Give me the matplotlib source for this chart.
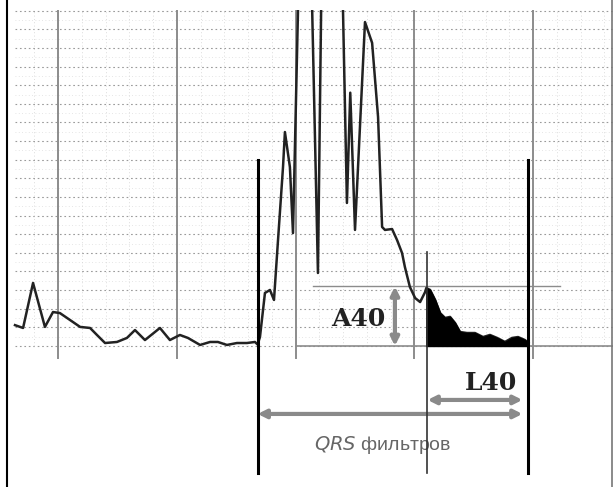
import matplotlib.pyplot as plt
import numpy as np

# filtered QRS (signal-averaged ECG), time in ms, amplitude in uV
t_ms = [-18.1, -14.7, -10.5, -5.5, -2.1, 0.8, 5.1, 9.3, 13.5, 16.4, 19.8, 24.8,
        29.0, 32.4, 36.6, 42.9, 47.1, 51.3, 54.7, 59.8, 64.0, 67.3, 71.1, 75.3,
        79.5, 82.9, 84.0,
        85.0, 87.1, 89.2, 90.9, 92.6, 94.7, 95.5, 97.6, 98.9, 101.5, 106.5,
        109.4, 111.0, 119.5, 121.6, 123.0, 125.0, 129.2, 132.2, 134.7, 136.4,
        137.6, 140.6, 142.7, 144.8, 146.0, 148.1, 150.3, 152.4, 154.5, 155.0,
        156.6, 158.7, 160.8, 162.9, 165.0, 167.1, 169.2, 172.1, 175.5, 178.9,
        181.8, 184.8, 188.1, 191.1, 193.6, 196.5, 198.0]
amp_uv = [14.0, 12.1, 42.3, 12.8, 22.8, 22.1, 17.4, 12.8, 12.1, 7.4, 2.0, 2.7,
          5.4, 10.7, 4.0, 12.1, 4.0, 7.4, 5.4, 0.7, 2.7, 2.7, 0.7, 2.0,
          2.0, 2.7, 1.0,
          6.0, 35.6, 37.6, 30.9, 71.1, 120.1, 143.6, 120.1, 75.8, 260, 260,
          49.0, 260, 260, 96.0, 170.0, 77.9, 217.4, 203.4, 153.7, 79.9,
          77.9, 78.5, 71.1, 62.4, 53.0, 39.6, 32.2, 29.5, 36.2, 38.9,
          37.6, 30.9, 22.1, 18.8, 19.5, 15.4, 9.4, 8.7, 8.7, 6.0,
          7.4, 5.4, 2.7, 5.4, 6.0, 4.0, 2.0]

qrs_on = 84.0
qrs_off = 198.0
las_on = 155.0
a40 = 40

t = np.array(t_ms)
y = np.array(amp_uv)

fig = plt.figure(figsize=(6.13, 4.87), dpi=100)
ax = fig.add_axes([0, 0, 1, 477/487])
ax.set_xlim(-24.41, 233.58)
ax.set_ylim(-94.63, 225.5)
ax.axis("off")

# grid
x0, x1 = -18.1, 233.6
for k in range(0, 19):
    ax.plot([x0, x1], [k*12.5, k*12.5], color="#9a9a9a", lw=0.8, ls=(0, (1.5, 2.5)), zorder=1)
    ax.plot([x0, x1], [k*12.5+6.25, k*12.5+6.25], color="#dddddd", lw=0.6, ls=(0, (1, 3)), zorder=1)
for v in np.arange(-10, 231, 10):
    ax.plot([v, v], [0, 226], color="#d0d0d0", lw=0.6, ls=(0, (1, 3)), zorder=1)
for v in [0, 50, 100, 150, 200]:
    ax.plot([v, v], [-8, 226], color="#8c8c8c", lw=1.4, zorder=1)
ax.plot([100, 233.6], [0, 0], color="#8c8c8c", lw=1.2, zorder=1)
ax.plot([107.3, 211.3], [a40, a40], color="#8c8c8c", lw=1.0, zorder=1)

# frame
ax.plot([-21.5, -21.5], [-94.63, 232.2], color="black", lw=1.5, clip_on=False)
ax.plot([233.2, 233.2], [-94.63, 232.2], color="#777777", lw=1.2, clip_on=False)

# signal + LAS
ax.plot(t, y, color="#222222", lw=1.8, zorder=3, solid_joinstyle="round")
m = t >= las_on
ax.fill_between(t[m], 0, y[m], color="black", zorder=3)

# QRS onset/offset, LAS onset
ax.plot([qrs_on, qrs_on], [-85.2, 124.8], color="black", lw=2.2, zorder=4)
ax.plot([qrs_off, qrs_off], [-85.2, 124.8], color="black", lw=2.2, zorder=4)
ax.plot([las_on + 0.5, las_on + 0.5], [-85.2, 63], color="#333333", lw=1.2, zorder=4)

# arrows
arr = dict(arrowstyle="<|-|>", color="#8a8a8a", lw=3, mutation_scale=12, shrinkA=0, shrinkB=0)
ax.annotate("", xy=(141.8, 0), xytext=(141.8, a40), arrowprops=arr)
ax.annotate("", xy=(las_on + 0.5, -36.2), xytext=(qrs_off - 2.5, -36.2), arrowprops=arr)
ax.annotate("", xy=(qrs_on, -45.6), xytext=(qrs_off - 2.5, -45.6), arrowprops=arr)

# labels
ax.text(126.3, 18.1, "A40", ha="center", va="center", fontsize=18,
        family="DejaVu Serif", weight="bold", color="#222222")
ax.text(182.2, -24.8, "L40", ha="center", va="center", fontsize=18,
        family="DejaVu Serif", weight="bold", color="#222222")
ax.text(136.8, -66.4, "$\\it{QRS}$ фильтров", ha="center", va="center", fontsize=14,
        family="Liberation Sans", color="#666666")

plt.savefig("out.png", dpi=100)
